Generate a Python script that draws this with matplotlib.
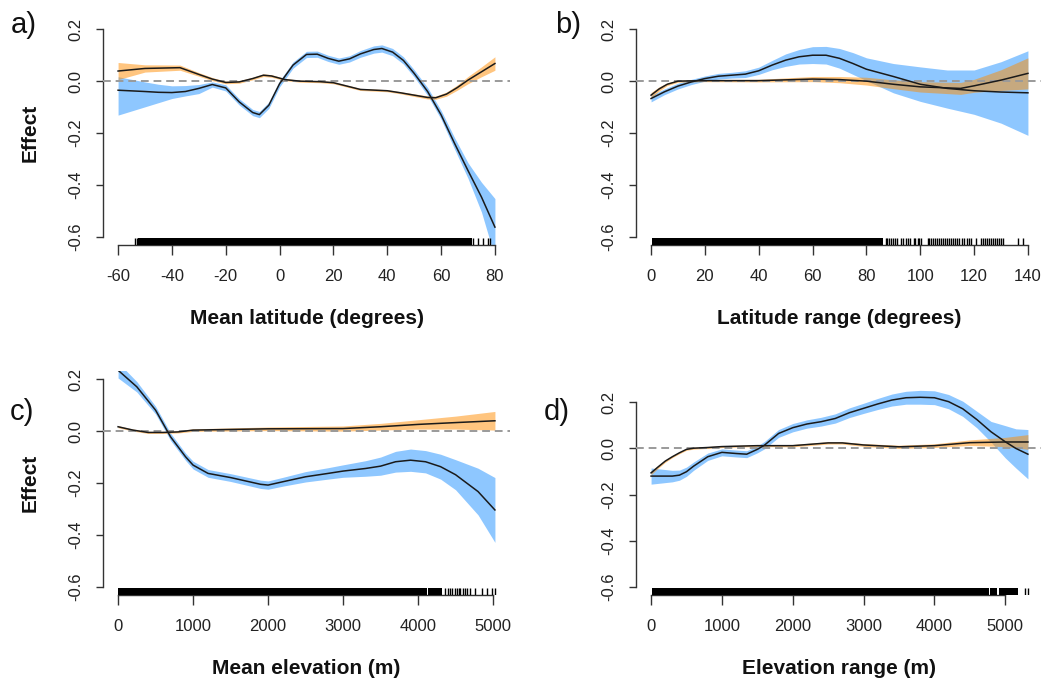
# GAM partial effect panels (a-d), base-R look

import matplotlib
matplotlib.use('Agg')
import matplotlib.pyplot as plt
import numpy as np

plt.rcParams['font.family'] = ['Liberation Sans', 'DejaVu Sans']
plt.rcParams['axes.unicode_minus'] = False

# ---- panel a: mean latitude ----
a_blue_x = [-60, -50, -45, -40, -35, -30, -25, -20, -15, -10, -7.5, -4, 0, 5, 10, 14, 18, 22, 26, 30, 35, 38, 42, 46, 50, 55, 60, 65, 70, 75, 80]
a_blue_fit = [-0.035, -0.04, -0.043, -0.044, -0.04, -0.028, -0.013, -0.026, -0.08, -0.121, -0.129, -0.093, -0.01, 0.062, 0.103, 0.104, 0.088, 0.077, 0.086, 0.105, 0.122, 0.126, 0.112, 0.08, 0.03, -0.04, -0.13, -0.24, -0.345, -0.447, -0.563]
a_blue_hi = [0.017, -0.003, -0.012, -0.018, -0.017, -0.013, -0.003, -0.014, -0.068, -0.109, -0.117, -0.081, 0.002, 0.074, 0.115, 0.116, 0.1, 0.089, 0.098, 0.118, 0.136, 0.14, 0.126, 0.094, 0.044, -0.025, -0.113, -0.218, -0.315, -0.39, -0.453]
a_blue_lo = [-0.131, -0.099, -0.083, -0.067, -0.057, -0.048, -0.023, -0.038, -0.092, -0.133, -0.141, -0.105, -0.022, 0.05, 0.091, 0.092, 0.076, 0.065, 0.074, 0.092, 0.108, 0.112, 0.098, 0.066, 0.016, -0.055, -0.147, -0.262, -0.375, -0.505, -0.68]

a_orange_x = [-60, -50, -37, -30, -25, -20, -15, -10, -6, -3, 2, 7.5, 15, 20, 25, 30, 40, 45, 50, 55, 58, 62, 66, 70, 75, 80]
a_orange_fit = [0.039, 0.049, 0.052, 0.026, 0.008, -0.005, -0.003, 0.01, 0.023, 0.02, 0.006, 0.0, -0.002, -0.006, -0.019, -0.032, -0.037, -0.045, -0.054, -0.063, -0.064, -0.05, -0.025, 0.004, 0.036, 0.068]
a_orange_se = [0.033, 0.014, 0.01, 0.007, 0.006, 0.005, 0.005, 0.005, 0.005, 0.005, 0.004, 0.004, 0.004, 0.004, 0.004, 0.004, 0.004, 0.004, 0.005, 0.006, 0.006, 0.008, 0.01, 0.014, 0.019, 0.026]

a_rug_dense = [(-52.6, 71.3)]
a_rug_ticks = [-53.8, -52.9, 71.9, 73.8, 75.6, 77.3, 78.1]

# ---- panel b: latitude range ----
b_blue_x = [0, 5, 10, 15, 20, 25, 30, 35, 40, 45, 50, 55, 60, 65, 70, 75, 80, 90, 100, 110, 120, 130, 140]
b_blue_fit = [-0.067, -0.041, -0.019, -0.003, 0.01, 0.019, 0.023, 0.027, 0.04, 0.062, 0.081, 0.094, 0.1, 0.1, 0.088, 0.068, 0.046, 0.018, -0.012, -0.028, -0.037, -0.042, -0.045]
b_blue_hi = [-0.055, -0.03, -0.008, 0.007, 0.02, 0.03, 0.034, 0.04, 0.054, 0.08, 0.105, 0.122, 0.133, 0.134, 0.126, 0.11, 0.09, 0.068, 0.055, 0.043, 0.043, 0.075, 0.117]
b_blue_lo = [-0.08, -0.052, -0.03, -0.013, 0.0, 0.008, 0.012, 0.014, 0.026, 0.044, 0.057, 0.066, 0.068, 0.066, 0.05, 0.026, 0.002, -0.045, -0.078, -0.104, -0.128, -0.162, -0.209]

b_orange_x = [0, 3, 6, 10, 20, 40, 60, 70, 80, 90, 100, 110, 115, 120, 130, 140]
b_orange_fit = [-0.054, -0.03, -0.012, 0.0, 0.002, 0.002, 0.008, 0.006, 0.0, -0.012, -0.022, -0.026, -0.028, -0.018, 0.004, 0.03]
b_orange_se = [0.01, 0.008, 0.005, 0.004, 0.004, 0.005, 0.01, 0.012, 0.015, 0.017, 0.02, 0.022, 0.023, 0.025, 0.04, 0.06]

b_rug_dense = [(0.4, 86.0)]
b_rug_ticks = [87.2, 87.8, 88.5, 89.3, 90, 90.8, 91.5, 92.8, 93.5, 94.8, 95.5, 96.3, 97.5, 98.2, 99, 99.6, 100.3,
               102.7, 103.3, 104, 104.8, 105.6, 106.3, 107, 107.8, 108.5, 109.3, 110, 110.8, 111.5, 112.3, 113,
               113.8, 114.5, 115.5, 116.3, 117.2, 118, 118.9, 120.7, 122.6, 123.3, 124, 124.8, 125.5, 126.3,
               127, 127.8, 128.6, 129.3, 130, 130.7, 136.3, 138.1]

# ---- panel c: mean elevation ----
c_blue_x = [0, 250, 500, 700, 900, 1000, 1200, 1500, 1900, 2000, 2200, 2500, 2800, 3000, 3300, 3500, 3700, 3900, 4100, 4300, 4500, 4800, 5025]
c_blue_fit = [0.235, 0.171, 0.081, -0.022, -0.099, -0.131, -0.163, -0.179, -0.205, -0.208, -0.195, -0.176, -0.163, -0.154, -0.144, -0.135, -0.118, -0.112, -0.118, -0.137, -0.168, -0.233, -0.304]
c_blue_se = [0.03, 0.02, 0.015, 0.014, 0.014, 0.015, 0.015, 0.015, 0.016, 0.016, 0.017, 0.02, 0.022, 0.024, 0.03, 0.035, 0.04, 0.043, 0.043, 0.048, 0.058, 0.09, 0.125]

c_orange_x = [0, 200, 400, 600, 800, 1000, 2000, 3000, 3500, 4000, 4500, 5025]
c_orange_fit = [0.017, 0.004, -0.005, -0.005, -0.003, 0.004, 0.009, 0.01, 0.017, 0.026, 0.033, 0.04]
c_orange_se = [0.004, 0.004, 0.004, 0.004, 0.004, 0.005, 0.007, 0.01, 0.013, 0.018, 0.025, 0.036]

c_rug_dense = [(0, 4116), (4138, 4317)]
c_rug_ticks = [4361, 4400, 4425, 4450, 4495, 4520, 4545, 4560, 4600, 4625, 4650, 4696, 4763, 4852, 4919, 4986, 5025]

# ---- panel d: elevation range ----
d_blue_x = [0, 300, 400, 500, 600, 800, 1000, 1200, 1350, 1500, 1600, 1800, 2000, 2200, 2400, 2600, 2800, 3000, 3200, 3400, 3600, 3800, 4000, 4200, 4400, 4600, 4800, 5000, 5150, 5320]
d_blue_fit = [-0.12, -0.12, -0.116, -0.101, -0.077, -0.036, -0.017, -0.022, -0.025, -0.004, 0.014, 0.065, 0.09, 0.106, 0.116, 0.13, 0.155, 0.174, 0.193, 0.21, 0.22, 0.222, 0.22, 0.203, 0.172, 0.125, 0.072, 0.029, 0.0, -0.025]
d_blue_se = [0.035, 0.025, 0.022, 0.02, 0.018, 0.016, 0.015, 0.015, 0.015, 0.015, 0.016, 0.017, 0.018, 0.018, 0.019, 0.02, 0.021, 0.022, 0.024, 0.026, 0.028, 0.03, 0.03, 0.031, 0.033, 0.036, 0.045, 0.07, 0.085, 0.107]

d_orange_x = [0, 100, 200, 300, 400, 500, 600, 800, 1000, 1500, 2000, 2500, 2700, 3000, 3500, 4000, 4500, 5000, 5320]
d_orange_fit = [-0.106, -0.08, -0.055, -0.036, -0.019, -0.004, 0.001, 0.004, 0.008, 0.012, 0.012, 0.024, 0.024, 0.015, 0.007, 0.012, 0.025, 0.028, 0.028]
d_orange_se = [0.008, 0.006, 0.005, 0.004, 0.004, 0.004, 0.004, 0.004, 0.004, 0.004, 0.005, 0.005, 0.005, 0.006, 0.007, 0.008, 0.012, 0.02, 0.032]

d_rug_dense = [(14, 4770), (4790, 4890), (4905, 5180)]
d_rug_ticks = [5273, 5320]

y_ticks = [-0.6, -0.4, -0.2, 0.0, 0.2]
y_tick_labels = ['-0.6', '-0.4', '-0.2', '0.0', '0.2']

BLUE = (30 / 255, 144 / 255, 1.0, 0.5)
ORANGE = (1.0, 140 / 255, 0.0, 0.5)
AXIS_COL = '#333333'

fig = plt.figure(figsize=(10.41, 6.8), dpi=100)

W, H = 1041.0, 680.0


def make_axes(left_px, bottom_px):
    return fig.add_axes([left_px / W, 1 - bottom_px / H, 407 / W, 224 / H])


def draw_panel(ax, xlim, ylim, xticks, blue, orange, rug_dense, rug_ticks, xlabel, ylabel):
    bx, bfit, blo, bhi = blue
    ox, ofit, olo, ohi = orange
    ax.fill_between(bx, blo, bhi, color=BLUE, lw=0)
    ax.fill_between(ox, olo, ohi, color=ORANGE, lw=0)
    ax.axhline(0, color='#9a9a9a', lw=1.4, ls=(0, (4, 2.5)), zorder=3)
    ax.plot(bx, bfit, color='#1a1a1a', lw=1.1, zorder=4)
    ax.plot(ox, ofit, color='#1a1a1a', lw=1.1, zorder=4)

    # rug along the bottom of the plot region
    trans = ax.get_xaxis_transform()
    for s, e in rug_dense:
        ax.fill_between([s, e], 0, 0.031, transform=trans, color='black', lw=0, zorder=5)
    ax.vlines(rug_ticks, 0, 0.031, transform=trans, color='black', lw=1.0, zorder=5)

    ax.set_xlim(*xlim)
    ax.set_ylim(*ylim)
    ax.set_xticks(xticks)
    ax.set_xticklabels([str(t) for t in xticks])
    ax.set_yticks(y_ticks)
    ax.set_yticklabels(y_tick_labels, rotation=90, va='center')
    for side in ('top', 'right'):
        ax.spines[side].set_visible(False)
    ax.spines['left'].set_bounds(-0.6, 0.2)
    ax.spines['bottom'].set_bounds(xticks[0], xticks[-1])
    for side in ('left', 'bottom'):
        ax.spines[side].set_color(AXIS_COL)
        ax.spines[side].set_linewidth(1.0)
    ax.tick_params(axis='x', length=7, width=1.0, color=AXIS_COL, pad=10, labelsize=12, labelcolor='#222222')
    ax.tick_params(axis='y', length=5, width=1.0, color=AXIS_COL, pad=9, labelsize=12, labelcolor='#222222')
    ax.set_facecolor('none')

    ax.text(0.5, -0.326, xlabel, transform=ax.transAxes, ha='center', va='center',
            fontsize=15, fontweight='bold', color='#111111')
    if ylabel:
        ax.text(-0.179, 0.5, ylabel, transform=ax.transAxes, ha='center', va='center',
                rotation=90, fontsize=15, fontweight='bold', color='#111111')


def band(x, fit, se):
    fit = np.array(fit)
    se = np.array(se)
    return x, fit, fit - se, fit + se


ax_a = make_axes(103, 245)
draw_panel(ax_a, (-65.6, 85.6), (-0.632, 0.232), [-60, -40, -20, 0, 20, 40, 60, 80],
           (a_blue_x, a_blue_fit, a_blue_lo, a_blue_hi),
           band(a_orange_x, a_orange_fit, a_orange_se),
           a_rug_dense, a_rug_ticks, 'Mean latitude (degrees)', 'Effect')

ax_b = make_axes(636, 245)
draw_panel(ax_b, (-5.6, 145.6), (-0.632, 0.232), [0, 20, 40, 60, 80, 100, 120, 140],
           (b_blue_x, b_blue_fit, b_blue_lo, b_blue_hi),
           band(b_orange_x, b_orange_fit, b_orange_se),
           b_rug_dense, b_rug_ticks, 'Latitude range (degrees)', None)

ax_c = make_axes(103, 595)
draw_panel(ax_c, (-201, 5226), (-0.632, 0.232), [0, 1000, 2000, 3000, 4000, 5000],
           band(c_blue_x, c_blue_fit, c_blue_se),
           band(c_orange_x, c_orange_fit, c_orange_se),
           c_rug_dense, c_rug_ticks, 'Mean elevation (m)', 'Effect')

ax_d = make_axes(636, 595)
draw_panel(ax_d, (-212.8, 5532.8), (-0.636, 0.336), [0, 1000, 2000, 3000, 4000, 5000],
           band(d_blue_x, d_blue_fit, d_blue_se),
           band(d_orange_x, d_orange_fit, d_orange_se),
           d_rug_dense, d_rug_ticks, 'Elevation range (m)', None)

# panel letters
for lab, xp, yp in [('a)', 24, 25), ('b)', 568, 25), ('c)', 22, 412), ('d)', 557, 412)]:
    fig.text(xp / W, 1 - yp / H, lab, ha='center', va='center', fontsize=21, color='#111111')

fig.savefig('out.png', dpi=100)
